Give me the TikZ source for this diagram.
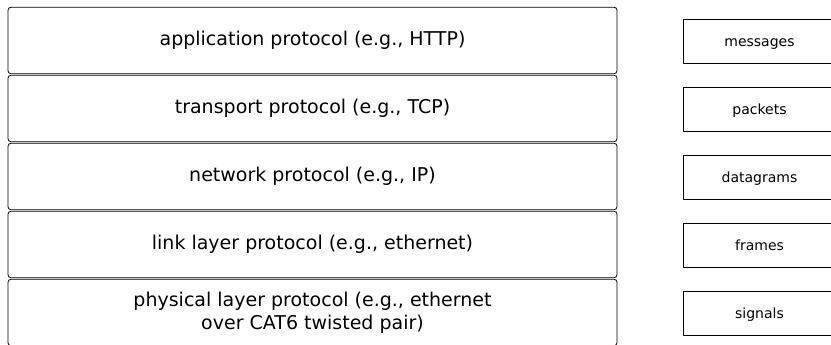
\documentclass[tikz,border=0pt]{standalone}
\usepackage{fontspec}
\setmainfont{DejaVu Sans}
\begin{document}
\begin{tikzpicture}[x=1pt,y=1pt,node distance=68pt]
	\useasboundingbox (0,0) rectangle (831,-345);
	\tikzstyle{layer}=[draw=black, rounded corners=3pt, line width=0.8pt, minimum width=609pt, minimum height=66.5pt, inner sep=0pt, align=center, font=\fontsize{19}{23}\selectfont]
	\tikzstyle{unit}=[draw=black, line width=0.8pt, minimum width=153pt, minimum height=44pt, inner sep=0pt, text height=12.5pt, text depth=1.5pt, font=\fontsize{14}{16}\selectfont]
	\node[layer] 				(app) at (312.5,-40.5) {application protocol (e.g., HTTP)};
	\node[layer, below of=app] 	(trans) {transport protocol (e.g., TCP)};
	\node[layer, below of=trans] 	(net) {network protocol (e.g., IP)};
	\node[layer, below of=net] 	(link) {link layer protocol (e.g., ethernet)};
	\node[layer, below of=link] 	(phys) {physical layer protocol (e.g., ethernet\\over CAT6 twisted pair)};
	
	\node[unit] (msg) at (759.5,-41) {messages};
	\node[unit, below of=msg] (pkt) {packets};
	\node[unit, below of=pkt] (dgram) {datagrams};
	\node[unit, below of=dgram] (frm) {frames};
	\node[unit, below of=frm] (sig) {signals};
\end{tikzpicture}
\end{document}
